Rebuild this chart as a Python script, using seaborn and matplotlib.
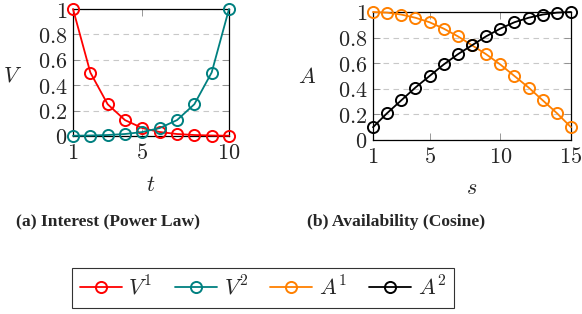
import numpy as np
import pandas as pd
import matplotlib
matplotlib.use("Agg")
import matplotlib.pyplot as plt
import seaborn as sns

# data
t = [1, 2, 3, 4, 5, 6, 7, 8, 9, 10]
v1 = [1.0, 0.5, 0.25, 0.125, 0.0625, 0.03125, 0.0156, 0.0078, 0.0039, 0.002]
v2 = [0.002, 0.0039, 0.0078, 0.0156, 0.03125, 0.0625, 0.125, 0.25, 0.5, 1.0]

s = list(range(1, 16))
a1 = [1.0, 0.995, 0.98, 0.955, 0.92, 0.87, 0.81, 0.74, 0.67, 0.59, 0.50, 0.41, 0.31, 0.21, 0.10]
a2 = [0.10, 0.21, 0.31, 0.41, 0.50, 0.59, 0.67, 0.74, 0.81, 0.87, 0.92, 0.955, 0.98, 0.995, 1.0]

yticks = [0, 0.2, 0.4, 0.6, 0.8, 1]
ytick_labels = ["$0$", "$0.2$", "$0.4$", "$0.6$", "$0.8$", "$1$"]

sns.set_style("ticks")
plt.rcParams["mathtext.fontset"] = "cm"
plt.rcParams["font.family"] = ["DejaVu Serif"]

fig = plt.figure(figsize=(5.82, 3.14), dpi=100)
ax1 = fig.add_axes([73 / 582, 1 - 136 / 314, 156 / 582, 127 / 314])
ax2 = fig.add_axes([373 / 582, 1 - 140 / 314, 198 / 582, 128 / 314])

line_kw = dict(marker="o", markerfacecolor="none", markersize=8,
               markeredgewidth=1.4, linewidth=1.3, clip_on=False, zorder=3)

sns.lineplot(x=t, y=v1, ax=ax1, color="#ff0000", markeredgecolor="#ff0000", label="$V^1$", **line_kw)
sns.lineplot(x=t, y=v2, ax=ax1, color="#008080", markeredgecolor="#008080", label="$V^2$", **line_kw)
sns.lineplot(x=s, y=a1, ax=ax2, color="#ff8000", markeredgecolor="#ff8000", label="$A^1$", **line_kw)
sns.lineplot(x=s, y=a2, ax=ax2, color="#000000", markeredgecolor="#000000", label="$A^2$", **line_kw)

for ax, xt, xl, yl in [(ax1, [1, 5, 10], "$t$", "$V$"), (ax2, [1, 5, 10, 15], "$s$", "$A$")]:
    ax.set_xlim(xt[0], xt[-1])
    ax.set_ylim(0, 1)
    ax.set_xticks(xt)
    ax.set_xticklabels([f"${v}$" for v in xt])
    ax.set_yticks(yticks)
    ax.set_yticklabels(ytick_labels)
    ax.tick_params(direction="in", top=True, right=True, length=5, width=0.6,
                   color="#888888", labelsize=16, pad=4)
    ax.yaxis.grid(True, linestyle=(0, (5, 4)), color="#c8c8c8", linewidth=0.8)
    ax.set_axisbelow(True)
    for sp in ax.spines.values():
        sp.set_color("black")
        sp.set_linewidth(0.9)
        sp.set_zorder(2.5)
    ax.set_xlabel(xl, fontsize=16, va="center", ha="center")
    ax.set_ylabel(yl, fontsize=16, rotation=0, va="center", ha="center")
    ax.get_legend().remove()

ax1.yaxis.set_label_coords(-0.39, 0.48)
ax1.xaxis.set_label_coords(0.5, -0.386)
ax2.yaxis.set_label_coords(-0.333, 0.49)
ax2.xaxis.set_label_coords(0.5, -0.375)

fig.text(108 / 582, 1 - 222 / 314, "(a) Interest (Power Law)", ha="center", va="center",
         fontsize=12.6, fontweight="bold", family=["Liberation Serif"])
fig.text(396 / 582, 1 - 222 / 314, "(b) Availability (Cosine)", ha="center", va="center",
         fontsize=12.6, fontweight="bold", family=["Liberation Serif"])

h1, l1 = ax1.get_legend_handles_labels()
h2, l2 = ax2.get_legend_handles_labels()
leg = fig.legend(h1 + h2, l1 + l2, loc="center", bbox_to_anchor=(263 / 582, 1 - 288 / 314),
                 ncol=4, fontsize=16, frameon=True, fancybox=False, edgecolor="black",
                 handlelength=1.9, handletextpad=0.3, columnspacing=1.0, numpoints=1,
                 borderpad=0.35)
leg.get_frame().set_linewidth(0.8)

fig.savefig("out.png", dpi=100)
